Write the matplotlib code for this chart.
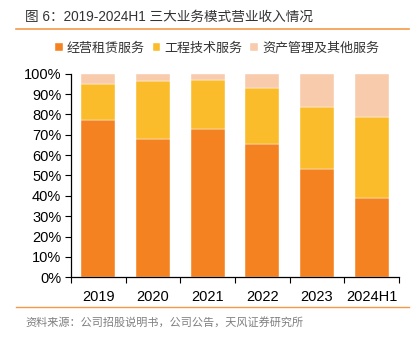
import matplotlib
matplotlib.use('Agg')
import matplotlib.pyplot as plt
from matplotlib.lines import Line2D
import numpy as np

plt.rcParams['font.family'] = ['Liberation Sans', 'Noto Sans CJK SC']
plt.rcParams['axes.unicode_minus'] = False

years = ['2019', '2020', '2021', '2022', '2023', '2024H1']
leasing = [77.4, 67.9, 72.7, 65.6, 53.0, 38.8]        # 经营租赁服务
engineering = [17.7, 28.7, 24.4, 27.2, 30.8, 39.8]    # 工程技术服务
asset_other = [4.9, 3.4, 2.9, 7.2, 16.2, 21.4]        # 资产管理及其他服务

series_names = ['经营租赁服务', '工程技术服务', '资产管理及其他服务']
colors = ['#F58220', '#FBBC2C', '#F8CBAD']

fig = plt.figure(figsize=(4.19, 3.38), dpi=100)
ax = fig.add_axes([0.1695, 0.1796, 0.7825, 0.6024])

x = np.arange(len(years))
bottom = np.zeros(len(years))
handles = []
for vals, name, c in zip([leasing, engineering, asset_other], series_names, colors):
    b = ax.bar(x, vals, width=0.62, bottom=bottom, color=c, label=name,
               edgecolor='white', linewidth=0.3)
    bottom += np.array(vals)
    handles.append(b)

ax.set_xlim(-0.5, len(years) - 0.5)
ax.set_ylim(0, 100)
ax.set_yticks(np.arange(0, 101, 10))
ax.set_yticklabels([f'{v}%' for v in range(0, 101, 10)], fontsize=10.5)
ax.set_xticks(x)
ax.set_xticklabels(years, fontsize=10.5)
ax.set_xticks(np.arange(-0.5, len(years), 1), minor=True)
ax.tick_params(axis='x', which='major', length=0, pad=9)
ax.tick_params(axis='x', which='minor', length=4, width=0.8, direction='out')
ax.tick_params(axis='y', length=4, width=0.8, direction='out', pad=3)
for s in ['top', 'right']:
    ax.spines[s].set_visible(False)
for s in ['left', 'bottom']:
    ax.spines[s].set_linewidth(0.9)

ax.legend(handles=handles, loc='lower center', bbox_to_anchor=(0.445, 1.035), ncol=3,
          frameon=False, handlelength=0.6, handleheight=0.6,
          handletextpad=0.3, columnspacing=0.6, labelcolor='#333333',
          prop={'family': ['Noto Sans CJK SC'], 'size': 9.4})

# 标题与分隔线
fig.text(25 / 419, 1 - 17 / 338, '图 6：2019-2024H1 三大业务模式营业收入情况',
         fontsize=9.8, color='#333333', va='center', fontweight='medium',
         family=['Liberation Sans', 'Noto Sans CJK SC'])
fig.add_artist(Line2D([16 / 419, 409 / 419], [1 - 29 / 338, 1 - 29 / 338],
                      color='#F39A4A', linewidth=1.2))
fig.add_artist(Line2D([16 / 419, 409 / 419], [1 - 306.5 / 338, 1 - 306.5 / 338],
                      color='#F39A4A', linewidth=1.0))
fig.text(25 / 419, 1 - 322 / 338, '资料来源：公司招股说明书，公司公告，天风证券研究所',
         fontsize=8, color='#7F7F7F', va='center',
         family=['Noto Sans CJK SC'])

fig.savefig('out.png', dpi=100)
